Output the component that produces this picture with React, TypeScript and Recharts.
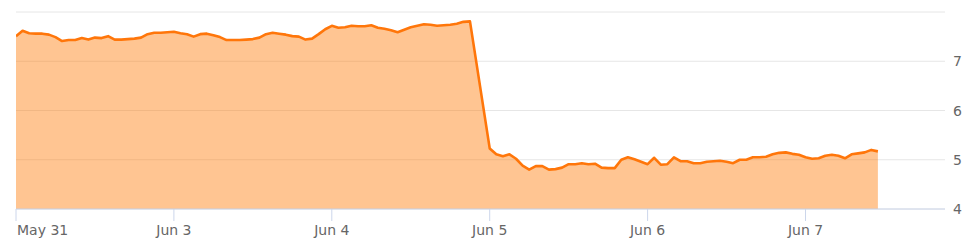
import React from 'react';
import { AreaChart, Area, XAxis, YAxis, CartesianGrid } from 'recharts';

const dayLabels = ['May 31', 'Jun 3', 'Jun 4', 'Jun 5', 'Jun 6', 'Jun 7'];

const may31 = [7.51, 7.62, 7.57, 7.56, 7.56, 7.54, 7.49, 7.41, 7.43, 7.43, 7.47, 7.44, 7.48, 7.47, 7.51, 7.44, 7.44, 7.45, 7.46, 7.48, 7.55, 7.58, 7.58, 7.59];
const jun3 = [7.6, 7.57, 7.55, 7.5, 7.55, 7.56, 7.53, 7.49, 7.43, 7.43, 7.43, 7.44, 7.45, 7.48, 7.55, 7.58, 7.56, 7.54, 7.51, 7.5, 7.44, 7.46, 7.55, 7.65];
const jun4 = [7.72, 7.68, 7.69, 7.72, 7.71, 7.71, 7.73, 7.68, 7.66, 7.63, 7.59, 7.64, 7.69, 7.72, 7.75, 7.74, 7.72, 7.73, 7.74, 7.76, 7.8, 7.81];
const jun5 = [5.23, 5.11, 5.07, 5.11, 5.02, 4.88, 4.8, 4.87, 4.87, 4.8, 4.81, 4.84, 4.91, 4.91, 4.93, 4.91, 4.92, 4.84, 4.83, 4.83, 5.0, 5.05, 5.01, 4.96];
const jun6 = [4.91, 5.04, 4.9, 4.91, 5.05, 4.97, 4.97, 4.93, 4.93, 4.96, 4.97, 4.98, 4.96, 4.93, 5.0, 5.0, 5.05, 5.05, 5.06, 5.11, 5.14, 5.15, 5.12, 5.1];
const jun7 = [5.05, 5.02, 5.03, 5.08, 5.1, 5.08, 5.03, 5.11, 5.13, 5.15, 5.2, 5.17];

const yTicks = [4, 5, 6, 7, 8];
const yLabels = ['4', '5', '6', '7', ''];

const HOURS = 24;
const dayValues = [may31, jun3, jun4, jun5, jun6, jun7];
const data = dayValues.flatMap((vals, d) => vals.map((v, h) => ({ t: d * HOURS + h, v })));
const xTicks = dayLabels.map((_, i) => i * HOURS);

const FONT = '"DejaVu Sans", Verdana, sans-serif';

const XTick = (props: any) => {
  const { x, y, payload, index } = props;
  const first = index === 0;
  return (
    <text
      x={first ? x + 1 : x}
      y={y + 12}
      textAnchor={first ? 'start' : 'middle'}
      fill="#666666"
      fontSize={14}
      fontFamily={FONT}
    >
      {dayLabels[Math.round(payload.value / HOURS)]}
    </text>
  );
};

const YTick = (props: any) => {
  const { x, y, payload } = props;
  const i = yTicks.indexOf(payload.value);
  return (
    <text x={x} y={y} dy="0.36em" textAnchor="start" fill="#666666" fontSize={14} fontFamily={FONT}>
      {yLabels[i]}
    </text>
  );
};

export default function App() {
  return (
    <div style={{ position: 'absolute', left: 0, top: 0, width: 972, height: 244, background: '#fff' }}>
      <AreaChart width={972} height={244} data={data} margin={{ top: 12, right: 0, left: 16, bottom: 0 }}>
        <CartesianGrid horizontal vertical={false} stroke="#e6e6e6" strokeWidth={1} />
        <XAxis
          dataKey="t"
          type="number"
          domain={[0, 141.2]}
          ticks={xTicks}
          height={35}
          tickSize={12}
          tickMargin={2}
          axisLine={{ stroke: '#ccd6eb' }}
          tickLine={{ stroke: '#ccd6eb' }}
          tick={<XTick />}
          interval={0}
          allowDataOverflow
        />
        <YAxis
          orientation="right"
          domain={[4, 8]}
          ticks={yTicks}
          width={27}
          axisLine={false}
          tickLine={false}
          tickSize={6}
          tickMargin={2}
          tick={<YTick />}
          interval={0}
          allowDataOverflow
        />
        <Area
          type="linear"
          dataKey="v"
          stroke="#ff760a"
          strokeWidth={2.6}
          strokeLinejoin="round"
          fill="#ff7f0e"
          fillOpacity={0.45}
          baseValue={4}
          isAnimationActive={false}
          dot={false}
          activeDot={false}
        />
      </AreaChart>
    </div>
  );
}
